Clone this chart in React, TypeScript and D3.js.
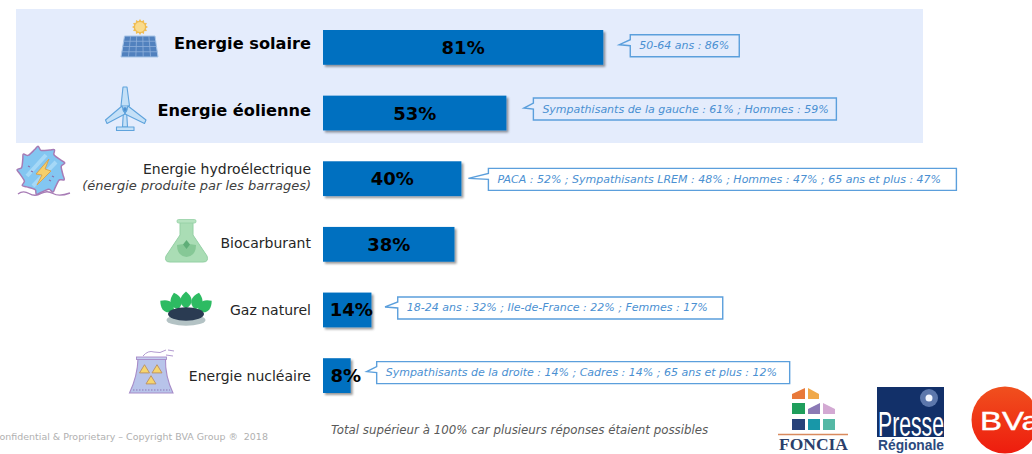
import React from "react";
import * as d3 from "d3";

const WIDTH = 1032;
const HEIGHT = 454;

// Share of respondents per energy source
const categories = [
  "Energie solaire",
  "Energie éolienne",
  "Energie hydroélectrique",
  "Biocarburant",
  "Gaz naturel",
  "Energie nucléaire",
];
const values = [81, 53, 40, 38, 14, 8];
const highlighted = [true, true, false, false, false, false];
const subLabels = ["", "", "(énergie produite par les barrages)", "", "", ""];
const callouts = [
  "50-64 ans : 86%",
  "Sympathisants de la gauche : 61% ; Hommes : 59%",
  "PACA : 52% ; Sympathisants LREM : 48% ; Hommes : 47% ; 65 ans et plus : 47%",
  "",
  "18-24 ans : 32% ; Ile-de-France : 22% ; Femmes : 17%",
  "Sympathisants de la droite : 14% ; Cadres : 14% ; 65 ans et plus : 12%",
];
const footnote = "Total supérieur à 100% car plusieurs réponses étaient possibles";
const copyright = "Confidential & Proprietary – Copyright BVA Group ®  2018";

// Per-row layout nudges, kept apart from the values above
const labelShift = [-2.5, -1.5, -9, -0.5, 1.5, 1.5];
const valueShift = [0, 0, 0, 0, 4, 9];
const calloutGap = [27, 27, 27, 0, 26.3, 26];
const calloutWidth = [109, 303, 468, 0, 325, 413];
const calloutShift = [-1.7, -4, 0.7, 0, -2, -3];
const calloutTail = [11, 9.5, 20, 0, 12.7, 10];

const FONT = "'DejaVu Sans', Verdana, sans-serif";
const BAR = "#0070C0";
const PANEL = "#E4ECFC";
const CALLOUT_STROKE = "#5B9FDC";
const CALLOUT_TEXT = "#4A90D2";

const x = d3.scaleLinear().domain([0, 100]).range([323, 669]);
const y = d3.scaleBand<number>().domain(d3.range(6)).range([30, 393]).paddingInner(0.47);

const SolarIcon = () => {
  const rays = d3.range(12).map((i) => (i * 360) / 12);
  return (
    <g>
      {rays.map((a) => (
        <path key={a} d="M-2,-5 L0,-8 L2,-5 Z" fill="#F2BE55" transform={`translate(140,27) rotate(${a})`} />
      ))}
      <circle cx={140} cy={27} r={5.5} fill="#FADB8C" stroke="#EDB94F" />
      <path d="M124.5,36 L155,36 L158,57 L121,57 Z" fill="#5181BE" stroke="#A9C6E8" strokeWidth={1} />
      {[0.25, 0.5, 0.75].map((t) => (
        <line key={t} x1={124.5 - 3.5 * t} y1={36 + 21 * t} x2={155 + 3 * t} y2={36 + 21 * t} stroke="#8FB0DA" strokeWidth={0.8} />
      ))}
      {[0.2, 0.4, 0.6, 0.8].map((t) => (
        <line key={t} x1={124.5 + 30.5 * t} y1={36} x2={121 + 37 * t} y2={57} stroke="#8FB0DA" strokeWidth={0.8} />
      ))}
    </g>
  );
};

const WindIcon = () => (
  <g fill="#C4E0F7" stroke="#5FA3DC" strokeWidth={1.1} strokeLinejoin="round">
    <path d="M123.5,110 L122.5,127 L127.5,127 L126.5,110 Z" />
    <path d="M116.5,127 H134 V130.5 H116.5 Z" />
    <path d="M123,87 L127,87 L129.5,106 L121,106 Z" />
    <path d="M122,106 L105.5,120 L107,123.5 L125,114 Z" />
    <path d="M128,106 L146,120 L144.5,123.5 L125,114 Z" />
    <circle cx={125} cy={109.5} r={2} fill="#4F8FD0" />
  </g>
);

const HydroIcon = () => {
  // Saw-toothed turbine wheel: each tooth rises slowly then drops back sharply
  const toothCount = 9;
  const outline: [number, number][] = d3.range(toothCount).flatMap((i) => {
    const a = (i / toothCount) * Math.PI * 2;
    const step = (Math.PI * 2) / toothCount;
    return [
      [a, 20],
      [a + step * 0.55, 22],
      [a + step * 0.8, 24.5],
      [a + step * 0.92, 20.5],
    ] as [number, number][];
  });
  const wheel = d3.lineRadial().curve(d3.curveCatmullRomClosed.alpha(0.5))(outline) ?? "";
  return (
    <g>
      <path d={wheel} transform="translate(41.5,170.5)" fill="#83C6F1" stroke="#A77BB5" strokeWidth={1.5} strokeLinejoin="round" />
      <path d="M27,176 L46,155 M33,186 L56,162" stroke="#A5D8F7" strokeWidth={4} />
      <path d="M28,166 l2,1 M31,171 l2,1 M52,176 l2,1 M49,180 l2,1" stroke="#8A6FA8" strokeWidth={1.2} />
      <path d="M49,159 L36,174 L42,175 L37,185 L51,171 L45,169 Z" fill="#F6CF6B" stroke="#D9A04A" strokeWidth={0.9} />
      <path d="M18,194 Q23,190 29,193.5 T41,193.5 T53,193.5 T70,193" fill="none" stroke="#A77BB5" strokeWidth={1.4} />
    </g>
  );
};

const FlaskIcon = () => (
  <g>
    <path d="M180,222 L193,222 L193,235 L207,256 Q209,262 203,262 L170,262 Q164,262 166,256 L180,235 Z" fill="#AADDB5" stroke="#94D0A4" strokeWidth={1} />
    <rect x={177} y={219.5} width={19} height={3.5} rx={1.5} fill="#B5E2BF" stroke="#94D0A4" strokeWidth={0.8} />
    <path d="M177,245 Q186,243 196,245 Q196,256 186.5,257 Q177,256 177,245 Z" fill="#86C896" />
    <path d="M186.5,240 L190,244.5 L186.5,249 L183,244.5 Z" fill="#5FAE78" />
  </g>
);

const GasIcon = () => (
  <g>
    <ellipse cx={186} cy={320} rx={19.5} ry={5.7} fill="#B3C2C4" />
    {[
      [167, 306, -52],
      [176, 301, -14],
      [186, 300, 0],
      [197, 301, 14],
      [205, 306, 52],
    ].map(([cx, cy, a]) => (
      <path key={cx} d="M0,-8.5 C7,-3 8,4 0,8.5 C-8,4 -7,-3 0,-8.5 Z" fill="#2DBB62" transform={`translate(${cx},${cy}) rotate(${a})`} />
    ))}
    <ellipse cx={186} cy={314} rx={18} ry={6.8} fill="#2A3B52" />
  </g>
);

const NuclearIcon = () => (
  <g>
    <path d="M138,359 L165.5,359 Q165,376 173,393 L129.5,393 Q137.5,376 138,359 Z" fill="#B8C4EA" stroke="#A78CC8" strokeWidth={1.1} />
    <rect x={136.5} y={357} width={30} height={2.5} fill="#C5CEEF" stroke="#A78CC8" strokeWidth={0.9} />
    <path d="M143,356 Q148,350 154,352 T166,350 M168,350 L174,351 M166,355 L173,356" fill="none" stroke="#B29AD0" strokeWidth={1} />
    {[
      [144.5, 369.5],
      [157, 369.5],
      [151, 380.5],
    ].map(([cx, cy]) => (
      <path key={cx} d="M0,-4.8 L5,3.4 L-5,3.4 Z" fill="#F6D56E" stroke="#B98F62" strokeWidth={0.9} strokeLinejoin="round" transform={`translate(${cx},${cy})`} />
    ))}
    <line x1={133} y1={390} x2={170} y2={390} stroke="#8E78B8" strokeWidth={1} strokeDasharray="1.5 1.5" />
  </g>
);

const icons = [SolarIcon, WindIcon, HydroIcon, FlaskIcon, GasIcon, NuclearIcon];

const FonciaLogo = () => (
  <g>
    <path d="M792,399 V394 L805,388 V399 Z" fill="#E8793A" />
    <path d="M808,388 L819,394 V399 H808 Z" fill="#F0A94A" />
    <rect x={792} y={403} width={13} height={11} fill="#1F9E5C" />
    <path d="M808,414 V409 L820,403 V414 Z" fill="#8B79B5" />
    <path d="M823,403 L835,409 V414 H823 Z" fill="#D3A9D3" />
    <rect x={792} y={419} width={13} height={11} fill="#27427A" />
    <rect x={808} y={419} width={12} height={11} fill="#1897A8" />
    <rect x={823} y={419} width={12} height={11} fill="#55B8A5" />
    <line x1={778} y1={434.5} x2={848} y2={434.5} stroke="#D98A5E" strokeWidth={1.3} />
    <text x={779} y={450} fontFamily="'Liberation Serif', serif" fontWeight={700} fontSize={16.5} fill="#2B3F6B" textLength={69} lengthAdjust="spacingAndGlyphs">
      FONCIA
    </text>
  </g>
);

const PresseLogo = () => (
  <g>
    <rect x={877} y={387} width={67} height={50} fill="#123069" />
    <circle cx={929} cy={398} r={9} fill="#6F8ABD" opacity={0.8} />
    <circle cx={929} cy={398} r={3.5} fill="#F2F6FF" />
    <text x={878} y={436} fontFamily="'Liberation Sans', sans-serif" fontSize={35} fill="#fff" textLength={66} lengthAdjust="spacingAndGlyphs">
      Presse
    </text>
    <text x={878} y={450} fontFamily="'Liberation Sans', sans-serif" fontWeight={700} fontSize={14} fill="#2B4A7E" textLength={66} lengthAdjust="spacingAndGlyphs">
      Régionale
    </text>
  </g>
);

const BvaLogo = () => (
  <g>
    <defs>
      <linearGradient id="bvaFill" x1="0" y1="0" x2="0" y2="1">
        <stop offset="0" stopColor="#F0501E" />
        <stop offset="1" stopColor="#EE1C0E" />
      </linearGradient>
    </defs>
    <circle cx={1005} cy={420} r={33.5} fill="url(#bvaFill)" />
    <text x={980} y={430} fontFamily="'Liberation Sans', sans-serif" fontSize={25} fill="#fff" stroke="#fff" strokeWidth={0.4} textLength={60} lengthAdjust="spacingAndGlyphs">
      BVa
    </text>
  </g>
);

export default function App() {
  React.useEffect(() => {
    document.body.style.margin = "0";
  }, []);
  return (
    <svg width={WIDTH} height={HEIGHT} viewBox={`0 0 ${WIDTH} ${HEIGHT}`} style={{ display: "block", background: "#fff" }} fontFamily={FONT}>
      <defs>
        <filter id="barShadow" x="-10%" y="-10%" width="125%" height="130%">
          <feDropShadow dx={2} dy={2} stdDeviation={1.2} floodColor="#000" floodOpacity={0.4} />
        </filter>
      </defs>
      <rect x={16} y={9} width={907} height={134} fill={PANEL} />

      {categories.map((name, i) => {
        const Icon = icons[i];
        const top = y(i) as number;
        const mid = top + y.bandwidth() / 2;
        const bold = highlighted[i];
        const right = x(values[i]);
        const sub = subLabels[i];
        const boxLeft = right + calloutGap[i];
        const boxMid = mid + calloutShift[i];
        return (
          <g key={name}>
            <Icon />
            <text
              x={311}
              y={mid + labelShift[i]}
              textAnchor="end"
              dominantBaseline="middle"
              fontSize={bold ? 16.2 : 14}
              fontWeight={bold ? 700 : 400}
              fill={bold ? "#000" : "#262626"}
            >
              {name}
            </text>
            {sub && (
              <text x={311} y={mid + 7.5} textAnchor="end" dominantBaseline="middle" fontSize={13} fontStyle="italic" fill="#404040">
                {sub}
              </text>
            )}
            <rect x={x(0)} y={top} width={right - x(0)} height={y.bandwidth()} fill={BAR} filter="url(#barShadow)" />
            <text x={(x(0) + right) / 2 + valueShift[i]} y={mid + 1.5} textAnchor="middle" dominantBaseline="middle" fontSize={18} fontWeight={700} fill="#000">
              {values[i]}%
            </text>
            {callouts[i] && (
              <g>
                <path
                  d={`M${boxLeft},${boxMid - 11} h${calloutWidth[i]} v22 h${-calloutWidth[i]} V${boxMid} L${boxLeft - calloutTail[i]},${boxMid - 1} L${boxLeft},${boxMid - 6} Z`}
                  fill={bold ? PANEL : "#fff"}
                  stroke={CALLOUT_STROKE}
                  strokeWidth={1.4}
                />
                <text x={boxLeft + 9} y={boxMid + 0.5} dominantBaseline="middle" fontSize={11} fontStyle="italic" fill={CALLOUT_TEXT}>
                  {callouts[i]}
                </text>
              </g>
            )}
          </g>
        );
      })}

      <text x={331} y={430} dominantBaseline="middle" fontSize={11.8} fontStyle="italic" fill="#595959">
        {footnote}
      </text>
      <text x={-7} y={437} dominantBaseline="middle" fontSize={9.45} fill="#b0b0b0" xmlSpace="preserve">
        {copyright}
      </text>
      <FonciaLogo />
      <PresseLogo />
      <BvaLogo />
    </svg>
  );
}
